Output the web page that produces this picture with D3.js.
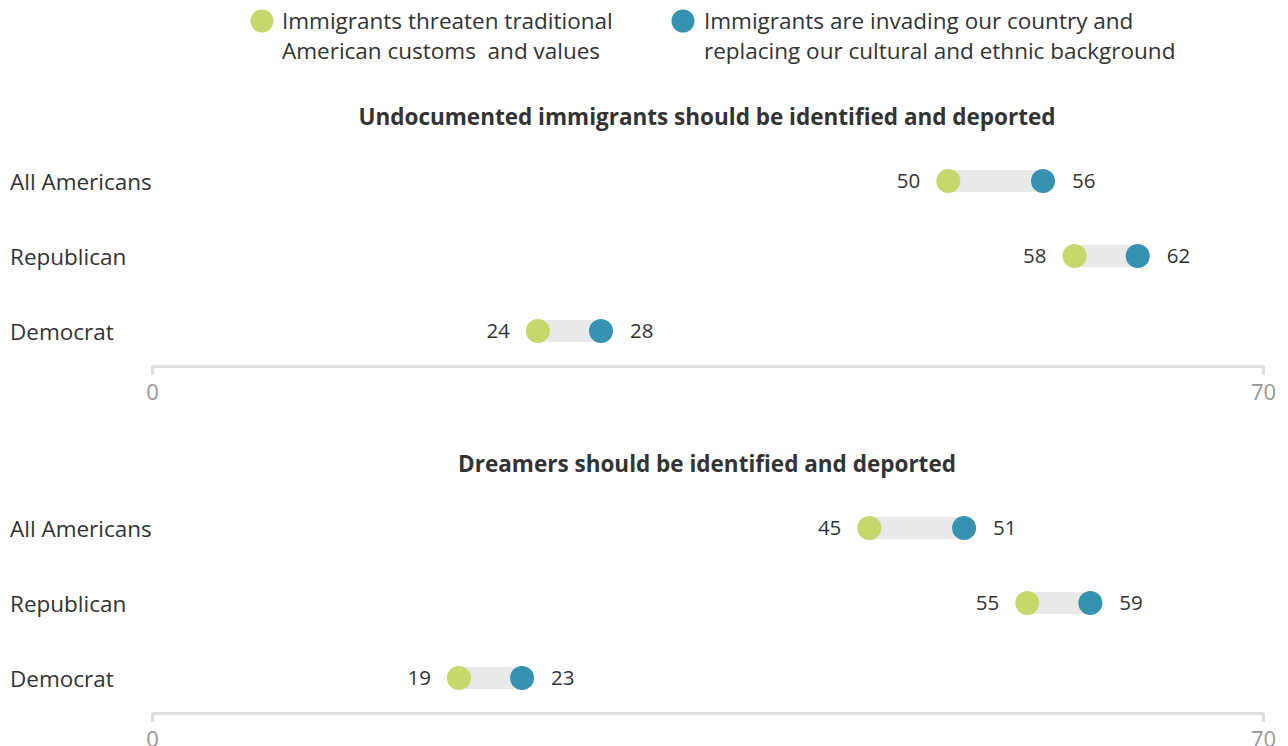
<!DOCTYPE html>
<html>
<head>
<meta charset="utf-8">
<script src="https://cdn.jsdelivr.net/npm/d3@7"></script>
<style>
  html, body { margin: 0; padding: 0; background: #fff; }
  svg { display: block; font-family: "Open Sans", sans-serif; }
</style>
</head>
<body>
<svg id="chart" width="1288" height="746"></svg>
<script>
// Groups shown on each row
const groups = ["All Americans", "Republican", "Democrat"];

// Panel titles
const panelTitles = [
  "Undocumented immigrants should be identified and deported",
  "Dreamers should be identified and deported"
];

// Share agreeing, among those who say immigrants threaten traditional values
const threatenValues = [
  [50, 58, 24],
  [45, 55, 19]
];
// Share agreeing, among those who say immigrants are invading / replacing
const invadingValues = [
  [56, 62, 28],
  [51, 59, 23]
];

const legendLabels = [
  ["Immigrants threaten traditional", "American customs  and values"],
  ["Immigrants are invading our country and", "replacing our cultural and ethnic background"]
];

const axisTicks = [0, 70];

const GREEN = "#c4d86c";
const BLUE = "#3592b0";
const BAR = "#e8eaea";
const TEXT = "#333333";
const LABEL_SIZE = 22.5;

const svg = d3.select("#chart");

// Dot positions and the axis share the 0–70 domain
const x = d3.scaleLinear().domain([0, 70]).range([159, 1264]);
const xAxisScale = d3.scaleLinear().domain([0, 70]).range([152, 1263]);

// Legend
const legend = svg.append("g");
const legendItems = [
  { color: GREEN, cx: 262, tx: 282, lines: legendLabels[0] },
  { color: BLUE, cx: 683, tx: 704, lines: legendLabels[1] }
];
legendItems.forEach(item => {
  legend.append("circle")
    .attr("cx", item.cx).attr("cy", 21).attr("r", 11.5)
    .attr("fill", item.color);
  const t = legend.append("text")
    .attr("x", item.tx).attr("y", 29)
    .attr("font-size", LABEL_SIZE).attr("fill", TEXT);
  item.lines.forEach((line, i) => {
    t.append("tspan")
      .attr("x", item.tx)
      .attr("dy", i === 0 ? 0 : 30)
      .style("white-space", "pre")
      .text(line);
  });
});

// Panels
const panelTop = [117, 464];   // title centre lines
const rowStart = 64;
const axisOffset = 249;
const y = d3.scalePoint().domain(groups).range([0, 150]);

panelTitles.forEach((title, p) => {
  const g = svg.append("g").attr("transform", `translate(0,${panelTop[p]})`);

  g.append("text")
    .attr("x", 707).attr("y", 0).attr("dy", "0.35em")
    .attr("text-anchor", "middle")
    .attr("font-size", LABEL_SIZE).attr("font-weight", 700)
    .attr("fill", TEXT)
    .text(title);

  const rows = g.append("g").attr("transform", `translate(0,${rowStart})`);

  groups.forEach((grp, i) => {
    const a = threatenValues[p][i];
    const b = invadingValues[p][i];
    const cy = y(grp);
    const row = rows.append("g");

    row.append("text")
      .attr("x", 10).attr("y", cy).attr("dy", "0.38em")
      .attr("font-size", LABEL_SIZE).attr("fill", TEXT)
      .text(grp);

    row.append("rect")
      .attr("x", x(a)).attr("y", cy - 11)
      .attr("width", x(b) - x(a)).attr("height", 22)
      .attr("fill", BAR);

    row.append("circle")
      .attr("cx", x(a)).attr("cy", cy).attr("r", 12)
      .attr("fill", GREEN);
    row.append("circle")
      .attr("cx", x(b)).attr("cy", cy).attr("r", 12)
      .attr("fill", BLUE);

    row.append("text")
      .attr("x", x(a) - 28).attr("y", cy).attr("dy", "0.36em")
      .attr("text-anchor", "end")
      .attr("font-size", 20.5).attr("fill", TEXT)
      .text(a);
    row.append("text")
      .attr("x", x(b) + 29).attr("y", cy).attr("dy", "0.36em")
      .attr("text-anchor", "start")
      .attr("font-size", 20.5).attr("fill", TEXT)
      .text(b);
  });

  // Axis
  const axisG = g.append("g")
    .attr("transform", `translate(0,${axisOffset})`)
    .call(d3.axisBottom(xAxisScale).tickValues(axisTicks).tickSize(9).tickSizeOuter(0).tickPadding(9));
  axisG.select(".domain").attr("stroke", "#dddddd").attr("stroke-width", 3);
  axisG.selectAll(".tick line").attr("stroke", "#dddddd").attr("stroke-width", 3);
  axisG.selectAll(".tick text")
    .attr("fill", "#999999")
    .attr("font-size", 22)
    .attr("font-family", "Open Sans, sans-serif");
});
</script>
</body>
</html>
